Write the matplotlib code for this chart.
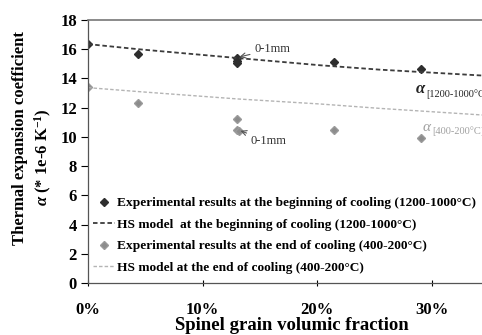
import matplotlib
matplotlib.use("Agg")
import matplotlib.pyplot as plt

plt.rcParams['font.family'] = ['Liberation Serif', 'DejaVu Serif']
plt.rcParams['font.weight'] = 'bold'
plt.rcParams['mathtext.fontset'] = 'custom'
plt.rcParams['mathtext.rm'] = 'Liberation Serif:bold'
plt.rcParams['mathtext.it'] = 'Liberation Serif:italic:bold'
plt.rcParams['mathtext.bf'] = 'Liberation Serif:bold'

# measured points, spinel fraction in %
frac_hot = [0, 4.4, 13.0, 13.0, 13.0, 21.5, 29.1]
alpha_hot = [16.35, 15.65, 15.4, 15.2, 15.05, 15.15, 14.65]
frac_cold = [0, 4.4, 13.0, 13.0, 13.2, 21.5, 29.1]
alpha_cold = [13.4, 12.3, 11.25, 10.5, 10.4, 10.45, 9.9]

# Hashin-Shtrikman model curves
hs_frac = [0, 4.4, 13.0, 20.3, 25.5, 34.4]
hs_hot = [16.35, 16.0, 15.4, 14.9, 14.6, 14.2]
hs_cold = [13.37, 13.1, 12.6, 12.25, 11.95, 11.5]

xticks = [0, 10, 20, 30]
xticklabels = ['0%', '10%', '20%', '30%']

fig = plt.figure(figsize=(4.82, 3.35), dpi=100)
ax = fig.add_axes([88/482, 52/335, 1 - 88/482, 263/335])

ax.plot(frac_hot, alpha_hot, linestyle='none', marker='D', ms=4.5,
        color='#2e2e2e', mec='#2e2e2e',
        label='Experimental results at the beginning of cooling (1200-1000°C)')
ax.plot(hs_frac, hs_hot, linestyle=(0, (2.5, 1.5)), lw=1.3, color='#3c3c3c',
        label='HS model  at the beginning of cooling (1200-1000°C)')
ax.plot(frac_cold, alpha_cold, linestyle='none', marker='D', ms=4.5,
        color='#8c8c8c', mec='#9a9a9a',
        label='Experimental results at the end of cooling (400-200°C)')
ax.plot(hs_frac, hs_cold, linestyle=(0, (2.5, 1.5)), lw=1.0, color='#b4b4b4',
        label='HS model at the end of cooling (400-200°C)')

ax.set_xlim(0, 34.4)
ax.set_ylim(0, 18)
ax.set_yticks(range(0, 19, 2))
ax.set_xticks(xticks)
ax.set_xticklabels(xticklabels)
ax.tick_params(axis='y', direction='out', length=5, width=0.8, labelsize=12, pad=3)
ax.tick_params(axis='x', direction='inout', length=5, width=0.8, labelsize=12, pad=11)

ax.spines['right'].set_visible(False)
ax.spines['top'].set_color('#777777')
ax.spines['top'].set_linewidth(1.2)
for s in ['left', 'bottom']:
    ax.spines[s].set_color('#555555')
    ax.spines[s].set_linewidth(0.9)

# curve labels on the right, clipped at the axes edge
ax.text(28.6, 13.0, 'α', fontsize=12, style='italic', color='#222222', clip_on=True)
ax.text(29.55, 12.75, '[1200-1000°C]', fontsize=7.5, weight='normal', color='#222222', clip_on=True)
ax.text(29.2, 10.4, 'α', fontsize=11, style='italic', weight='normal', color='#a0a0a0', clip_on=True)
ax.text(30.05, 10.2, '[400-200°C]', fontsize=7.5, weight='normal', color='#a0a0a0', clip_on=True)

# 0-1mm grain size annotations
ax.annotate('0-1mm', xy=(13.1, 15.45), xytext=(14.5, 16.0), fontsize=9, weight='normal',
            color='#333333', va='center',
            arrowprops=dict(arrowstyle='->', color='#555555', lw=0.8, shrinkA=1, shrinkB=1))
ax.annotate('0-1mm', xy=(13.2, 10.45), xytext=(14.2, 9.7), fontsize=9, weight='normal',
            color='#333333', va='center',
            arrowprops=dict(arrowstyle='->', color='#555555', lw=0.8, shrinkA=1, shrinkB=1))

ax.legend(loc='lower left', bbox_to_anchor=(-0.01, 0.0), frameon=False, fontsize=9.6,
          handlelength=1.6, handletextpad=0.15, labelspacing=0.68, borderpad=0.2,
          markerscale=0.8)

fig.text(20/482, 1 - 138/335, 'Thermal expansion coefficient', rotation=90,
         ha='center', va='center', fontsize=12)
fig.text(43/482, 1 - 157/335, r'$\alpha$ (* 1e-6 K$^{\mathregular{-1}}$)', rotation=90,
         ha='center', va='center', fontsize=12)
fig.text(292/482, 1 - 325/335, 'Spinel grain volumic fraction', ha='center', va='center',
         fontsize=13.5)

fig.savefig('out.png', dpi=100)
